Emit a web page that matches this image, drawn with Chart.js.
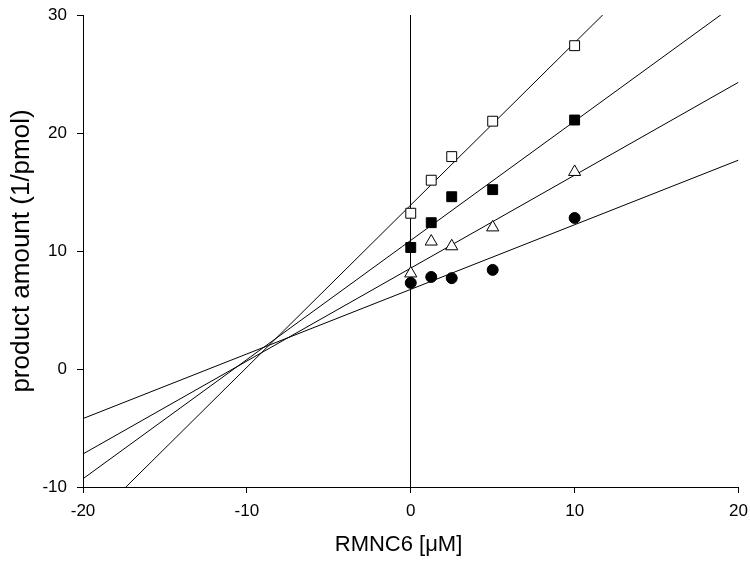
<!DOCTYPE html>
<html>
<head>
<meta charset="utf-8">
<script src="https://cdn.jsdelivr.net/npm/chart.js@4.4.0/dist/chart.umd.min.js"></script>
<style>
  html, body { margin: 0; padding: 0; background: #fff; }
  #wrap { width: 750px; height: 562px; position: relative; }
</style>
</head>
<body>
<div id="wrap"><canvas id="plot"></canvas></div>
<script>
// substrate concentration (x) for all measured series
const concentrations = [0, 1.25, 2.5, 5, 10];

// measured values, product amount (1/pmol)
const openSquares   = [13.2, 16.0, 18.0, 21.0, 27.4];
const filledSquares = [10.3, 12.4, 14.6, 15.2, 21.1];
const openTriangles = [8.1, 10.8, 10.4, 12.0, 16.7];
const filledCircles = [7.3, 7.8, 7.7, 8.4, 12.8];

// fitted lines, given at the ends of the x range
const fitX = [-20, 20];
const fitOpenSquares   = [-13.6, 41.4];
const fitFilledSquares = [-9.3, 31.1];
const fitTriangles     = [-7.2, 24.3];
const fitCircles       = [-4.2, 17.7];

const xTicks = [-20, -10, 0, 10, 20];
const yTicks = [-10, 0, 10, 20, 30];

Chart.defaults.font.family = "'Liberation Sans', Arial, sans-serif";
Chart.defaults.color = '#000';

function points(xs, ys) {
    return xs.map((x, i) => ({ x: x, y: ys[i] }));
}

function markerSet(label, ys, style, fill, radius) {
    return {
        label: label,
        data: points(concentrations, ys),
        pointStyle: style,
        pointRadius: radius,
        pointBackgroundColor: fill,
        pointBorderColor: '#000',
        pointBorderWidth: 1,
        showLine: false,
        order: 0
    };
}

function fitLine(label, ys) {
    return {
        label: label,
        data: points(fitX, ys),
        showLine: true,
        borderColor: '#000',
        borderWidth: 1,
        pointRadius: 0,
        fill: false,
        order: 1
    };
}

new Chart(document.getElementById('plot'), {
    type: 'scatter',
    data: {
        datasets: [
            markerSet('open squares', openSquares, 'rect', '#fff', 7),
            markerSet('filled squares', filledSquares, 'rect', '#000', 7),
            markerSet('open triangles', openTriangles, 'triangle', '#fff', 7),
            markerSet('filled circles', filledCircles, 'circle', '#000', 5.5),
            fitLine('fit open squares', fitOpenSquares),
            fitLine('fit filled squares', fitFilledSquares),
            fitLine('fit triangles', fitTriangles),
            fitLine('fit circles', fitCircles)
        ]
    },
    options: {
        responsive: true,
        maintainAspectRatio: false,
        animation: false,
        layout: {
            padding: { top: 15, right: 11.5, left: 0, bottom: 0 }
        },
        plugins: {
            legend: { display: false },
            tooltip: { enabled: false }
        },
        scales: {
            x: {
                type: 'linear',
                min: -20,
                max: 20,
                afterBuildTicks: scale => {
                    scale.ticks = xTicks.map(v => ({ value: v }));
                },
                afterFit: scale => {
                    scale.height = 75;
                    scale.paddingLeft = 0;
                    scale.paddingRight = 0;
                },
                border: { display: true, color: '#000', width: 1 },
                grid: {
                    drawOnChartArea: true,
                    tickLength: 6,
                    tickColor: '#000',
                    color: ctx => (ctx.tick && ctx.tick.value === 0) ? '#000' : 'rgba(0,0,0,0)',
                    lineWidth: 1
                },
                ticks: {
                    padding: 8,
                    maxRotation: 0,
                    font: { size: 17 }
                },
                title: {
                    display: true,
                    text: 'RMNC6 [\u03bcM]\u00a0\u00a0\u00a0\u00a0',
                    font: { size: 22 },
                    padding: { top: 0, bottom: 4 }
                }
            },
            y: {
                type: 'linear',
                min: -10,
                max: 30,
                afterBuildTicks: scale => {
                    scale.ticks = yTicks.map(v => ({ value: v }));
                },
                afterFit: scale => {
                    scale.width = 83;
                    scale.paddingTop = 0;
                    scale.paddingBottom = 0;
                },
                border: { display: true, color: '#000', width: 1 },
                grid: {
                    drawOnChartArea: false,
                    tickLength: 6,
                    tickColor: '#000'
                },
                ticks: {
                    padding: 10,
                    font: { size: 17 }
                },
                title: {
                    display: true,
                    text: 'product amount (1/pmol)',
                    font: { size: 26 },
                    padding: { top: 6, bottom: 0 }
                }
            }
        }
    }
});
</script>
</body>
</html>
